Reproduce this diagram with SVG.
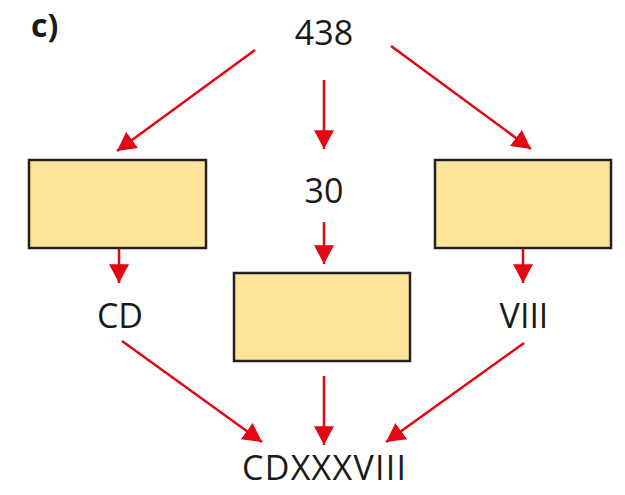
<svg xmlns="http://www.w3.org/2000/svg" width="625" height="495" viewBox="0 0 625 495">
<style>
.t{font-family:"Open Sans","Noto Sans",sans-serif;font-size:34px;fill:#1a1a1a;text-anchor:middle}
.b{fill:#FFE499;stroke:#222;stroke-width:2.5}
.c line{stroke:#E30613;stroke-width:2.5;marker-end:url(#ah)}
</style>
<defs>
<marker id="ah" markerUnits="userSpaceOnUse" markerWidth="20" markerHeight="20" viewBox="0 0 16 16" refX="15" refY="8" orient="auto">
<path d="M0,0 L15,8 L0,16 Z" fill="#E30613"/>
</marker>
</defs>
<text x="31" y="37" style="font-family:'Open Sans','Noto Sans',sans-serif;font-size:32px;font-weight:bold;fill:#1a1a1a">c)</text>
<g id="n438"><text class="t" x="324" y="45">438</text></g>
<g id="box1"><rect class="b" x="29" y="160" width="177" height="88"/></g>
<g id="n30"><text class="t" x="324" y="203">30</text></g>
<g id="box3"><rect class="b" x="435" y="160" width="176" height="88"/></g>
<g id="box2"><rect class="b" x="234" y="273" width="176" height="88"/></g>
<g id="cd"><text class="t" x="120" y="328">CD</text></g>
<g id="viii"><text class="t" x="524" y="328">VIII</text></g>
<g id="res"><text class="t" x="324" y="480" textLength="164" lengthAdjust="spacing">CDXXXVIII</text></g>
<g class="c" id="connectors">
<line x1="255" y1="50" x2="117" y2="151"/>
<line x1="324" y1="80" x2="324" y2="149"/>
<line x1="391" y1="46" x2="531" y2="149"/>
<line x1="324" y1="222" x2="324" y2="264"/>
<line x1="119" y1="249" x2="119" y2="283"/>
<line x1="523" y1="249" x2="523" y2="283"/>
<line x1="122" y1="341" x2="262" y2="442"/>
<line x1="324" y1="376" x2="324" y2="445"/>
<line x1="524" y1="343" x2="386" y2="442"/>
</g>
</svg>
